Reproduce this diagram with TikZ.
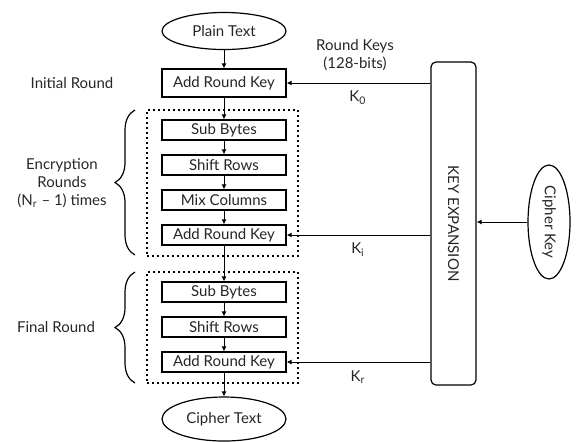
\documentclass[tikz,border=0pt]{standalone}
\usepackage{fontspec}
\setmainfont{Lato}
\usetikzlibrary{shapes.geometric, arrows.meta, positioning, decorations.pathreplacing}

\begin{document}
\begin{tikzpicture}[
  x=0.5pt, y=-0.5pt,
  font=\fontsize{7.5}{9}\selectfont, text=black!85,
  stage/.style={rectangle, draw, line width=0.6pt, fill=white, minimum width=62pt, minimum height=10pt, inner sep=0pt},
  oval/.style={ellipse, draw, line width=0.6pt, minimum width=62pt, minimum height=18.5pt, inner sep=0pt},
  roundbox/.style={rectangle, draw, dash pattern=on 0.9pt off 1.6pt, line width=0.9pt, minimum width=75.5pt},
  arrow/.style={-{Latex[length=2.5pt, width=2.5pt]}, line width=0.5pt},
  label/.style={align=center},
  brace/.style={decorate, decoration={brace, amplitude=10pt}, line width=0.6pt}
]
\useasboundingbox (0,0) rectangle (582,441);

% Round groups
\node[roundbox, minimum height=73pt] (encgroup) at (222.5,183) {};
\node[roundbox, minimum height=55.5pt] (fingroup) at (222.5,327.5) {};

% Main flow
\node[oval] (plain) at (224,31) {Plain Text};
\node[stage, minimum height=14pt] (ark0) at (224,83) {Add Round Key};
\node[stage] (sub1) at (224,130) {Sub Bytes};
\node[stage] (shift1) at (224,165) {Shift Rows};
\node[stage] (mix1) at (224,200) {Mix Columns};
\node[stage] (ark1) at (224,235) {Add Round Key};
\node[stage] (sub2) at (224,292) {Sub Bytes};
\node[stage] (shift2) at (224,327) {Shift Rows};
\node[stage] (ark2) at (224,362) {Add Round Key};
\node[oval, minimum height=22pt] (cipher) at (224,419) {Cipher Text};

% Key schedule
\node[rectangle, draw, line width=0.6pt, rounded corners=2.5pt, minimum width=22.5pt, minimum height=161.5pt] (keyexp) at (453.5,223.5) {};
\node[rotate=-90] (keyexptext) at (keyexp) {KEY EXPANSION};
\node[ellipse, draw, line width=0.6pt, minimum width=21pt, minimum height=57pt, inner sep=0pt] (ckey) at (549,222) {};
\node[rotate=-90] (ckeytext) at (ckey) {Cipher Key};

% Labels
\node[label] (roundkeys) at (355,55) {Round Keys\\(128-bits)};
\node[label] (k0) at (358,98) {K\textsubscript{0}};
\node[label] (ki) at (358,250) {K\textsubscript{i}};
\node[label] (kr) at (358,377) {K\textsubscript{r}};
\node[label] (initial) at (72,83) {Initial Round};
\node[label] (encrounds) at (62,183) {Encryption\\Rounds\\(N\textsubscript{r} – 1) times};
\node[label] (final) at (56,327) {Final Round};

% Braces
\draw[brace] (135,255) -- (135,110);
\draw[brace] (135,383) -- (135,272);

% Arrows
\draw[arrow] (plain) -- (ark0);
\draw[arrow] (ark0) -- (sub1);
\draw[arrow] (sub1) -- (shift1);
\draw[arrow] (shift1) -- (mix1);
\draw[arrow] (mix1) -- (ark1);
\draw[arrow] (ark1) -- (sub2);
\draw[arrow] (sub2) -- (shift2);
\draw[arrow] (shift2) -- (ark2);
\draw[arrow] (ark2) -- (cipher);
\draw[arrow] (keyexp.west |- ark0.east) -- (ark0.east);
\draw[arrow] (keyexp.west |- ark1.east) -- (ark1.east);
\draw[arrow] (keyexp.west |- ark2.east) -- (ark2.east);
\draw[arrow] (ckey.west) -- (keyexp.east |- ckey.west);

\end{tikzpicture}
\end{document}
